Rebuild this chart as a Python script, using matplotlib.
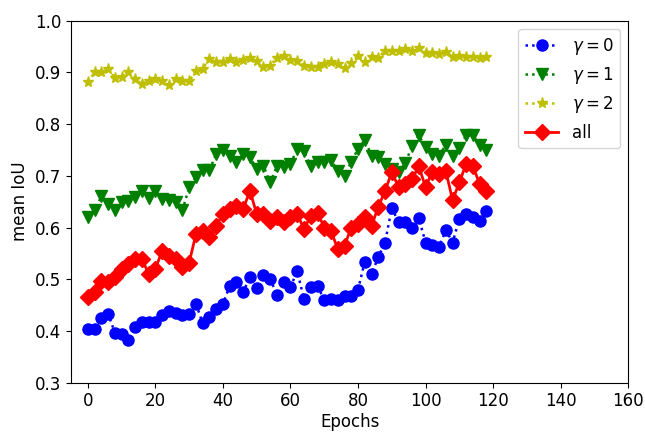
import matplotlib
matplotlib.use("Agg")
import matplotlib.pyplot as plt
import numpy as np

plt.rcParams['font.size'] = 12

epochs = list(range(0, 120, 2))

gamma0 = [0.404, 0.404, 0.426, 0.433, 0.397, 0.394, 0.382, 0.407, 0.417, 0.417,
          0.417, 0.431, 0.439, 0.434, 0.430, 0.432, 0.453, 0.415, 0.428, 0.443,
          0.452, 0.487, 0.494, 0.475, 0.505, 0.484, 0.509, 0.500, 0.470, 0.495,
          0.486, 0.515, 0.462, 0.486, 0.487, 0.460, 0.461, 0.459, 0.468, 0.468,
          0.480, 0.534, 0.510, 0.543, 0.571, 0.638, 0.610, 0.610, 0.600, 0.618,
          0.571, 0.567, 0.563, 0.595, 0.571, 0.617, 0.626, 0.620, 0.613, 0.631]

gamma1 = [0.620, 0.633, 0.660, 0.645, 0.633, 0.649, 0.652, 0.658, 0.670, 0.657,
          0.670, 0.655, 0.654, 0.649, 0.633, 0.678, 0.698, 0.711, 0.711, 0.742,
          0.749, 0.739, 0.726, 0.742, 0.736, 0.713, 0.719, 0.687, 0.719, 0.716,
          0.723, 0.752, 0.747, 0.719, 0.726, 0.726, 0.730, 0.710, 0.700, 0.727,
          0.752, 0.769, 0.739, 0.736, 0.723, 0.713, 0.707, 0.724, 0.758, 0.778,
          0.755, 0.742, 0.739, 0.760, 0.739, 0.753, 0.778, 0.778, 0.760, 0.750]

gamma2 = [0.881, 0.900, 0.900, 0.907, 0.889, 0.890, 0.900, 0.887, 0.877, 0.884,
          0.887, 0.884, 0.876, 0.887, 0.884, 0.883, 0.903, 0.907, 0.926, 0.919,
          0.919, 0.926, 0.919, 0.923, 0.928, 0.921, 0.911, 0.913, 0.928, 0.932,
          0.924, 0.921, 0.913, 0.910, 0.911, 0.916, 0.919, 0.916, 0.909, 0.917,
          0.932, 0.919, 0.929, 0.928, 0.942, 0.941, 0.941, 0.944, 0.942, 0.947,
          0.937, 0.937, 0.935, 0.939, 0.930, 0.932, 0.930, 0.929, 0.928, 0.929]

all_ = [0.465, 0.475, 0.497, 0.494, 0.504, 0.520, 0.529, 0.539, 0.540, 0.510,
        0.520, 0.555, 0.545, 0.539, 0.523, 0.532, 0.587, 0.594, 0.581, 0.603,
        0.626, 0.636, 0.642, 0.636, 0.671, 0.626, 0.626, 0.613, 0.620, 0.610,
        0.620, 0.626, 0.597, 0.623, 0.629, 0.600, 0.594, 0.558, 0.565, 0.600,
        0.607, 0.620, 0.603, 0.640, 0.671, 0.707, 0.678, 0.684, 0.694, 0.718,
        0.678, 0.708, 0.703, 0.709, 0.653, 0.687, 0.723, 0.719, 0.684, 0.670]

labels = [r'$\gamma=0$', r'$\gamma=1$', r'$\gamma=2$', 'all']

fig = plt.figure(figsize=(6.45, 4.32), dpi=100)
ax = fig.add_axes([0.110, 0.114, 0.864, 0.8385])

ax.plot(epochs, gamma0, ':', color='b', marker='o', markersize=8, linewidth=1.8, label=labels[0])
ax.plot(epochs, gamma1, ':', color='g', marker='v', markersize=9, linewidth=1.8, label=labels[1])
ax.plot(epochs, gamma2, ':', color='y', marker='*', markersize=8, linewidth=1.8, label=labels[2])
ax.plot(epochs, all_, '-', color='r', marker='D', markersize=8, linewidth=2, label=labels[3])

ax.set_xlim(-5, 160)
ax.set_ylim(0.3, 1.0)
ax.set_xticks(range(0, 161, 20))
ax.set_yticks(np.arange(0.3, 1.01, 0.1))
ax.set_xlabel('Epochs', labelpad=2)
ax.set_ylabel('mean IoU')
ax.legend(loc='upper right')

fig.savefig('out.png', dpi=100)
